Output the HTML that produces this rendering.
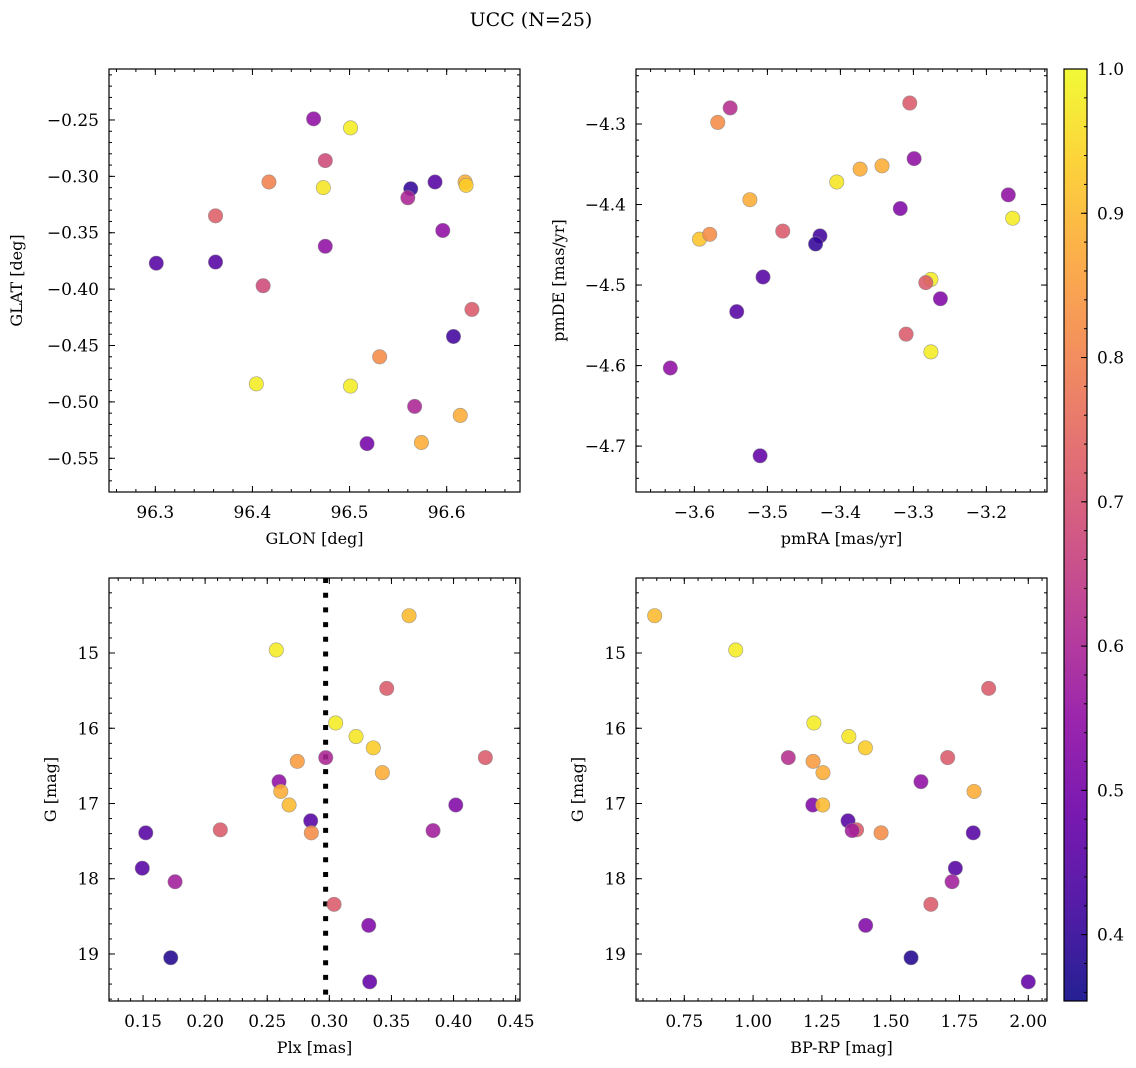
<!DOCTYPE html>
<html><head><meta charset="utf-8"><title>UCC (N=25)</title>
<style>
html,body{margin:0;padding:0;background:#fff;}
svg{display:block;font-family:"DejaVu Serif","Liberation Serif",serif;}
</style></head>
<body>
<svg id="fig" width="1136" height="1068" viewBox="0 0 1136 1068" xmlns="http://www.w3.org/2000/svg">
<rect width="1136" height="1068" fill="#fff"/>
<text x="531" y="26" font-size="19" text-anchor="middle" fill="#000">UCC (N=25)</text>
</svg>
<script>
// ---- data ----
const glon = [96.463,96.501,96.475,96.417,96.473,96.563,96.588,96.619,96.620,96.560,96.362,96.596,96.475,96.301,96.362,96.411,96.626,96.607,96.531,96.404,96.501,96.567,96.614,96.518,96.574];
const glat = [-0.249,-0.257,-0.286,-0.305,-0.310,-0.311,-0.305,-0.305,-0.308,-0.319,-0.335,-0.348,-0.362,-0.377,-0.376,-0.397,-0.418,-0.442,-0.460,-0.484,-0.486,-0.504,-0.512,-0.537,-0.536];
const probP1 = [0.55,0.98,0.68,0.80,0.97,0.40,0.45,0.88,0.93,0.60,0.73,0.55,0.55,0.45,0.45,0.68,0.72,0.42,0.82,0.98,0.98,0.60,0.88,0.50,0.88];

const pmra = [-3.551,-3.568,-3.305,-3.299,-3.373,-3.343,-3.405,-3.524,-3.170,-3.318,-3.164,-3.593,-3.579,-3.479,-3.428,-3.434,-3.506,-3.276,-3.283,-3.263,-3.542,-3.310,-3.276,-3.633,-3.510];
const pmde = [-4.280,-4.298,-4.274,-4.343,-4.356,-4.352,-4.372,-4.394,-4.388,-4.405,-4.417,-4.443,-4.437,-4.433,-4.439,-4.449,-4.490,-4.493,-4.497,-4.517,-4.533,-4.561,-4.583,-4.603,-4.712];
const probP2 = [0.62,0.82,0.72,0.55,0.88,0.88,0.97,0.88,0.55,0.52,0.98,0.92,0.82,0.72,0.42,0.40,0.45,0.98,0.72,0.52,0.45,0.72,0.98,0.55,0.47];

const plx = [0.3642,0.2573,0.3462,0.3051,0.3215,0.3354,0.2971,0.4256,0.2742,0.3427,0.2595,0.2609,0.4018,0.2676,0.2850,0.2122,0.3835,0.2855,0.1522,0.1494,0.1758,0.3038,0.3317,0.1723,0.3325];
const gmag = [14.504,14.96,15.47,15.93,16.11,16.26,16.39,16.39,16.44,16.59,16.71,16.84,17.02,17.02,17.23,17.35,17.36,17.39,17.39,17.86,18.04,18.34,18.62,19.05,19.37];
const probP3 = [0.90,0.98,0.72,0.98,0.97,0.93,0.60,0.72,0.85,0.88,0.55,0.88,0.52,0.90,0.45,0.72,0.58,0.82,0.45,0.45,0.58,0.72,0.52,0.38,0.47];
const plxLine = [0.297];

const bprp = [0.6424,0.9368,1.856,1.221,1.348,1.408,1.128,1.707,1.218,1.254,1.610,1.803,1.217,1.253,1.345,1.376,1.360,1.465,1.800,1.735,1.723,1.646,1.409,1.574,2.000];
const gmag4 = [14.504,14.96,15.47,15.93,16.11,16.26,16.39,16.39,16.44,16.59,16.71,16.84,17.02,17.02,17.23,17.35,17.36,17.39,17.39,17.86,18.04,18.34,18.62,19.05,19.37];
const probP4 = [0.90,0.98,0.72,0.98,0.97,0.93,0.62,0.72,0.85,0.88,0.55,0.88,0.52,0.90,0.45,0.72,0.58,0.82,0.45,0.45,0.58,0.72,0.52,0.38,0.47];

const ticksP1x = [96.3,96.4,96.5,96.6];
const ticksP1y = [-0.25,-0.30,-0.35,-0.40,-0.45,-0.50,-0.55];
const ticksP2x = [-3.6,-3.5,-3.4,-3.3,-3.2];
const ticksP2y = [-4.3,-4.4,-4.5,-4.6,-4.7];
const ticksP3x = [0.15,0.20,0.25,0.30,0.35,0.40,0.45];
const ticksG = [15,16,17,18,19];
const ticksP4x = [0.75,1.00,1.25,1.50,1.75,2.00];
const ticksCbar = [0.4,0.5,0.6,0.7,0.8,0.9,1.0];
const cmin = 0.354, cmax = 1.0;

// ---- helpers ----
const NS = "http://www.w3.org/2000/svg";
const svg = document.getElementById('fig');
function el(tag, attrs, parent){
  const e = document.createElementNS(NS, tag);
  for (const k in attrs) e.setAttribute(k, attrs[k]);
  (parent||svg).appendChild(e);
  return e;
}
const plasma = [[13,8,135],[65,4,157],[106,0,168],[143,13,164],[177,42,144],[204,71,120],[225,100,98],[242,132,75],[252,166,54],[252,206,37],[240,249,33]];
function cmap(t){
  t = Math.max(0, Math.min(1, t));
  const f = t*10, i = Math.min(9, Math.floor(f)), r = f - i;
  const a = plasma[i], b = plasma[i+1];
  return `rgb(${Math.round(a[0]+(b[0]-a[0])*r)},${Math.round(a[1]+(b[1]-a[1])*r)},${Math.round(a[2]+(b[2]-a[2])*r)})`;
}
function fmt(v, d){ let s = v.toFixed(d); if (v < 0) s = '\u2212' + s.slice(1); return s; }

function panel(cfg){
  const {name, L, T, R, B, xmin, xmax, ymin, ymax, invertY} = cfg;
  const sx = v => L + (v - xmin) / (xmax - xmin) * (R - L);
  const sy = invertY ? (v => T + (v - ymin) / (ymax - ymin) * (B - T))
                     : (v => B - (v - ymin) / (ymax - ymin) * (B - T));
  const g = el('g', {});
  
  
  const minorX = [], minorY = [];
  for (let v = Math.ceil(xmin / cfg.xminor) * cfg.xminor; v <= xmax; v += cfg.xminor) minorX.push(v);
  for (let v = Math.ceil(ymin / cfg.yminor) * cfg.yminor; v <= ymax; v += cfg.yminor) minorY.push(v);
  const tg = el('g', {stroke:'#000','stroke-width':1}, g);
  
  
  minorX.forEach(v => { const x = sx(v);
    el('line',{x1:x,x2:x,y1:B,y2:B-3},tg); el('line',{x1:x,x2:x,y1:T,y2:T+3},tg); });
  minorY.forEach(v => { const y = sy(v);
    el('line',{x1:L,x2:L+3,y1:y,y2:y},tg); el('line',{x1:R,x2:R-3,y1:y,y2:y},tg); });
  cfg.xticks.forEach(v => { const x = sx(v);
    el('line',{x1:x,x2:x,y1:B,y2:B-6},tg); el('line',{x1:x,x2:x,y1:T,y2:T+6},tg);
    const t = el('text',{x:x,y:B+26,'font-size':17,'text-anchor':'middle',fill:'#000'},g);
    t.textContent = fmt(v, cfg.xdec);
    
    
  });
  cfg.yticks.forEach(v => { const y = sy(v);
    el('line',{x1:L,x2:L+6,y1:y,y2:y},tg); el('line',{x1:R,x2:R-6,y1:y,y2:y},tg);
    const t = el('text',{x:L-10,y:y+6,'font-size':17,'text-anchor':'end',fill:'#000'},g);
    t.textContent = fmt(v, cfg.ydec);
    
    
  });
  if (cfg.vline) cfg.vline.forEach(v => {
    const ln = el('line',{x1:sx(v),x2:sx(v),y1:T,y2:B,stroke:'#000','stroke-width':5,'stroke-dasharray':'5 9.7'},g);
    
    
  });
  cfg.xs.forEach((xv, i) => {
    const c = el('circle',{cx:sx(xv),cy:sy(cfg.ys[i]),r:7.2,fill:cmap((cfg.cs[i]-cmin)/(cmax-cmin)),'fill-opacity':0.88,stroke:'#888','stroke-width':0.6,'stroke-opacity':0.8},g);
    
    
  });
  const fr = el('rect',{x:L,y:T,width:R-L,height:B-T,fill:'none',stroke:'#000','stroke-width':1.2},g);
  
  
  const xl = el('text',{x:(L+R)/2,y:B+52,'font-size':16,'text-anchor':'middle',fill:'#000'},g);
  xl.textContent = cfg.xlabel;
  
  
  const yl = el('text',{x:0,y:0,'font-size':16,'text-anchor':'middle',fill:'#000',transform:`translate(${cfg.ylx},${(T+B)/2}) rotate(-90)`},g);
  yl.textContent = cfg.ylabel;
  
  
}

panel({name:'glon-glat-panel',L:109,T:69,R:520,B:492,xmin:96.2523,xmax:96.6755,ymin:-0.5799,ymax:-0.2048,
  xticks:ticksP1x,yticks:ticksP1y,xminor:0.02,yminor:0.01,xdec:1,ydec:2,xs:glon,ys:glat,cs:probP1,
  xlabel:'GLON [deg]',ylabel:'GLAT [deg]',ylx:22});
panel({name:'pm-panel',L:636,T:69,R:1047,B:492,xmin:-3.680,xmax:-3.117,ymin:-4.757,ymax:-4.2317,
  xticks:ticksP2x,yticks:ticksP2y,xminor:0.02,yminor:0.02,xdec:1,ydec:1,xs:pmra,ys:pmde,cs:probP2,
  xlabel:'pmRA [mas/yr]',ylabel:'pmDE [mas/yr]',ylx:564});
panel({name:'plx-g-panel',L:109,T:578,R:520,B:1001,xmin:0.1226,xmax:0.4535,ymin:14.003,ymax:19.625,invertY:true,
  xticks:ticksP3x,yticks:ticksG,xminor:0.01,yminor:0.2,xdec:2,ydec:0,xs:plx,ys:gmag,cs:probP3,vline:plxLine,
  xlabel:'Plx [mas]',ylabel:'G [mag]',ylx:56});
panel({name:'cmd-panel',L:636,T:578,R:1047,B:1001,xmin:0.5745,xmax:2.068,ymin:14.003,ymax:19.625,invertY:true,
  xticks:ticksP4x,yticks:ticksG,xminor:0.05,yminor:0.2,xdec:2,ydec:0,xs:bprp,ys:gmag4,cs:probP4,
  xlabel:'BP-RP [mag]',ylabel:'G [mag]',ylx:583});

(function(){
  const L=1064,R=1087,T=69,B=1001;
  const g = el('g',{});
  
  
  const defs = el('defs',{},g);
  const lg = el('linearGradient',{id:'pl',x1:0,y1:1,x2:0,y2:0},defs);
  for (let i=0;i<=20;i++){ el('stop',{offset:(i/20),'stop-color':cmap(i/20)},lg); }
  el('rect',{x:L,y:T,width:R-L,height:B-T,fill:'url(#pl)','fill-opacity':0.9},g);
  const sy = v => B - (v-cmin)/(cmax-cmin)*(B-T);
  for (let v=0.36; v<=1.0001; v+=0.02){ el('line',{x1:R,x2:R-3,y1:sy(v),y2:sy(v),stroke:'#000'},g); }
  ticksCbar.forEach(v=>{
    el('line',{x1:R,x2:R-6,y1:sy(v),y2:sy(v),stroke:'#000'},g);
    const t = el('text',{x:R+10,y:sy(v)+6,'font-size':17,fill:'#000'},g);
    t.textContent = v.toFixed(1);
    
    
  });
  el('rect',{x:L,y:T,width:R-L,height:B-T,fill:'none',stroke:'#000','stroke-width':1.2},g);
})();
</script>
</body></html>
